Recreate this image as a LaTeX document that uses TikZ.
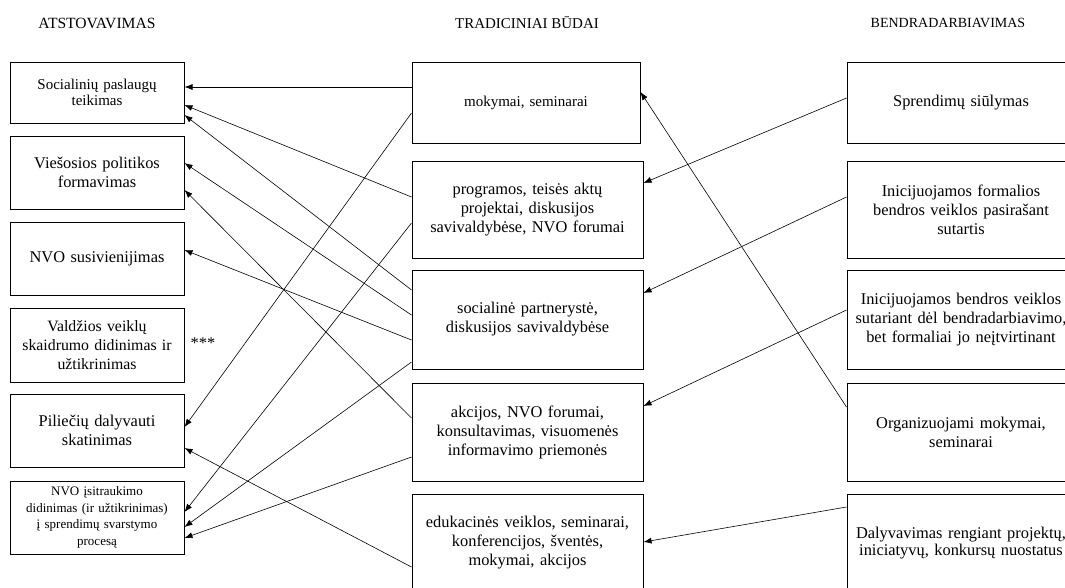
\documentclass[tikz,border=0pt]{standalone}
\usepackage{fontspec}
\setmainfont{Liberation Serif}
\usetikzlibrary{arrows.meta}

\begin{document}
\begin{tikzpicture}[x=1pt, y=-1pt,
	every node/.style={font=\fontsize{16.4}{19}\selectfont},
	box/.style={draw, line width=1pt, align=center, inner sep=2pt},
	lbox/.style={box, minimum width=174pt, text width=170pt},
	mbox/.style={box, minimum width=231pt, text width=227pt},
	rbox/.style={box, minimum width=228pt, text width=224pt},
	head/.style={font=\fontsize{14}{16}\selectfont, inner sep=0pt},
	arr/.style={-{Latex[length=8pt,width=6pt]}, line width=0.6pt}]
	\useasboundingbox (0,0) rectangle (1065,587);
	% column titles
	\node[head, font=\fontsize{15.6}{17}\selectfont] (hleft) at (97,23) {ATSTOVAVIMAS};
	\node[head, font=\fontsize{15}{17}\selectfont] (hmid) at (527,23) {TRADICINIAI BŪDAI};
	\node[head] (hright) at (948,23) {BENDRADARBIAVIMAS};
	% left column
	\node[lbox, minimum height=61pt, font=\fontsize{15}{16.5}\selectfont] (l1) at (97,92.5) {Socialinių paslaugų\\teikimas};
	\node[lbox, minimum height=73pt] (l2) at (97,172.5) {Viešosios politikos\\formavimas};
	\node[lbox, minimum height=73pt] (l3) at (97,258.5) {NVO susivienijimas};
	\node[lbox, minimum height=74pt, font=\fontsize{15.8}{19}\selectfont] (l4) at (97,345) {Valdžios veiklų\\skaidrumo didinimas ir\\užtikrinimas};
	\node[lbox, minimum height=73pt] (l5) at (97,430.5) {Piliečių dalyvauti\\skatinimas};
	\node[lbox, minimum height=73pt, font=\fontsize{13}{16.5}\selectfont] (l6) at (97,517.5) {NVO įsitraukimo\\didinimas (ir užtikrinimas)\\į sprendimų svarstymo\\procesą};
	\node (stars) at (203,343) {***};
	% middle column
	\node[mbox, minimum width=228pt, text width=224pt, minimum height=81pt, font=\fontsize{15}{18}\selectfont] (m1) at (526,102.5) {mokymai, seminarai};
	\node[mbox, minimum height=97pt] (m2) at (527.5,209.5) {programos, teisės aktų\\projektai, diskusijos\\savivaldybėse, NVO forumai};
	\node[mbox, minimum height=99pt] (m3) at (527.5,319.5) {socialinė partnerystė,\\diskusijos savivaldybėse\\[14pt]};
	\node[mbox, minimum height=98pt] (m4) at (527.5,432) {akcijos, NVO forumai,\\konsultavimas, visuomenės\\informavimo priemonės};
	\node[mbox, minimum height=98pt] (m5) at (527.5,543) {edukacinės veiklos, seminarai,\\konferencijos, šventės,\\mokymai, akcijos};
	% right column
	\node[rbox, minimum height=81pt] (r1) at (961,102.5) {Sprendimų siūlymas};
	\node[rbox, minimum height=97pt] (r2) at (961,209.5) {Inicijuojamos formalios\\bendros veiklos pasirašant\\sutartis};
	\node[rbox, minimum height=99pt] (r3) at (961,319.5) {Inicijuojamos bendros veiklos\\sutariant dėl bendradarbiavimo,\\bet formaliai jo neįtvirtinant};
	\node[rbox, minimum height=98pt] (r4) at (961,432) {Organizuojami mokymai,\\seminarai};
	\node[rbox, minimum height=98pt, font=\fontsize{16.4}{17}\selectfont] (r5) at (961,543) {Dalyvavimas rengiant projektų,\\iniciatyvų, konkursų nuostatus};
	% links middle -> left
	\foreach \from/\fs/\to/\ts in {
		m1/15.5/l1/5.5, m1/-10.5/l5/3.5,
		m2/12.5/l1/-12.5, m2/-13.5/l6/5.5,
		m3/29.5/l1/-22.5, m3/4.5/l2/9.5, m3/-20.5/l3/8.5, m3/-42.5/l6/-9.5,
		m4/14/l2/-17.5, m4/-25/l6/-20.5,
		m5/-24/l5/-17.5}
	\draw[arr] ([yshift=\fs pt]\from.west) -- ([yshift=\ts pt]\to.east);
	% links right -> middle
	\foreach \from/\fs/\to/\ts in {
		r1/4.5/m2/26.5, r2/12.5/m3/26.5, r3/9.5/m4/26,
		r4/25/m1/10.5, r5/36/m5/1}
	\draw[arr] ([yshift=\fs pt]\from.west) -- ([yshift=\ts pt]\to.east);
\end{tikzpicture}
\end{document}
